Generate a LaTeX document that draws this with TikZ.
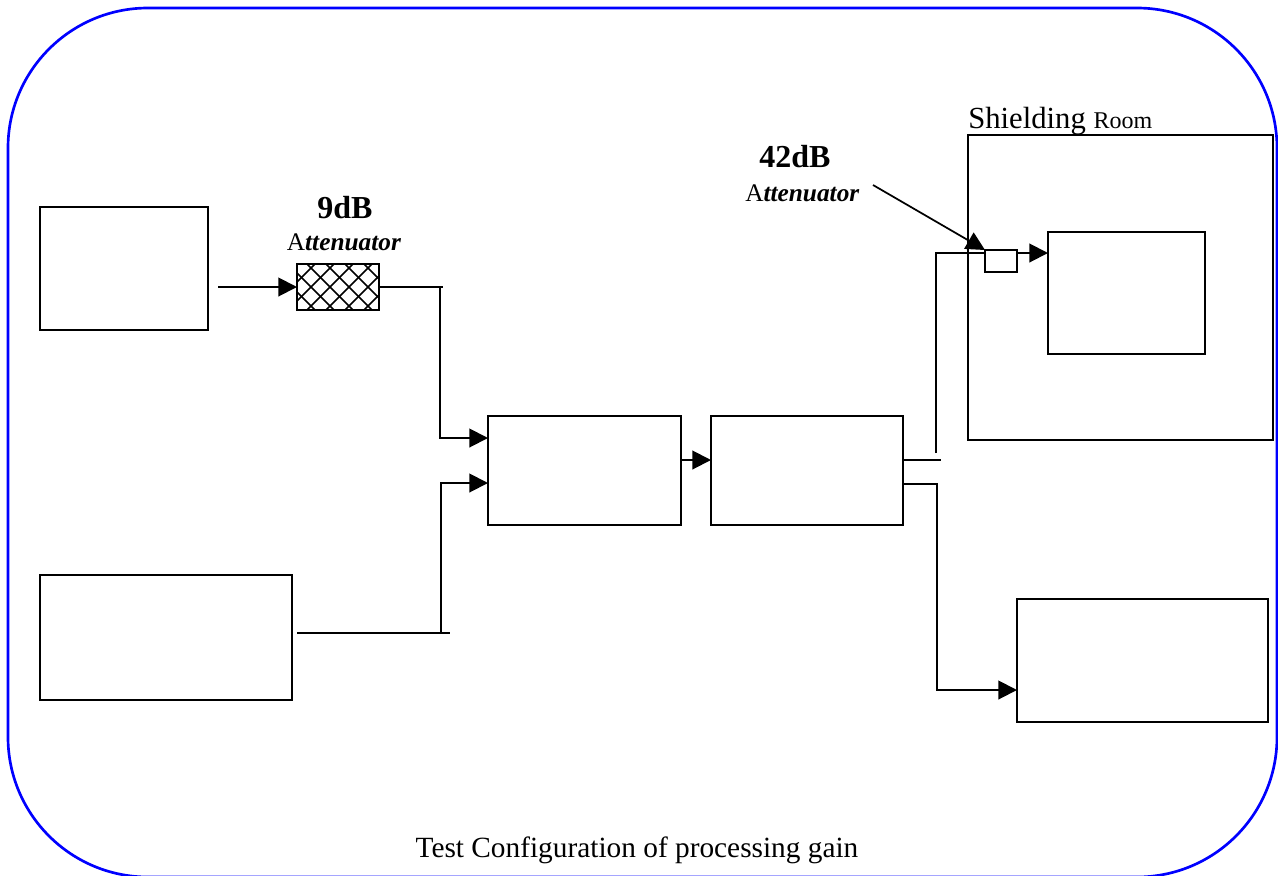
\documentclass[tikz,border=0pt]{standalone}
\usepackage{fontspec}
\setmainfont{Liberation Serif}
\usetikzlibrary{arrows.meta,fit}
\begin{document}
\begin{tikzpicture}[x=0.75pt,y=-0.75pt,
  box/.style={draw, line width=1.5pt, inner sep=0pt, outer sep=0pt},
  wire/.style={line width=1.5pt},
  arr/.style={line width=1.5pt, -{Triangle[length=14pt,width=14pt]}},
  lbl/.style={inner sep=0pt, anchor=base},
  frame/.style={draw=blue, line width=2pt, rounded corners=105pt}]
\useasboundingbox (0,0) rectangle (1278,875);
% frame
\begin{scope}
\clip (0,0) rectangle (1278,875);
\path[frame] (8,8) rectangle (1277,877);
\end{scope}
% boxes
\node[box, fit={(40,207) (208,330)}] (srcA) {};
\node[box, fit={(40,575) (292,700)}] (srcB) {};
\node[box, fit={(297,264) (379,310)}] (att9) {};
\node[box, fit={(488,416) (681,525)}] (mix) {};
\node[box, fit={(711,416) (903,525)}] (dev) {};
\node[box, fit={(968,135) (1273,440)}] (room) {};
\node[box, fit={(1048,232) (1205,354)}] (rx) {};
\node[box, line width=1.2pt, fit={(985,250) (1017,272)}] (att42) {};
\node[box, fit={(1017,599) (1268,722)}] (meas) {};
% hatch of 9dB attenuator
\begin{scope}
  \clip (att9.north west) rectangle (att9.south east);
  \foreach \i in {231,250,...,400} {
    \draw[line width=1.1pt] (\i,264) -- ++(46,46);
    \draw[line width=1.1pt] (\i,310) -- ++(46,-46);
  }
\end{scope}
\node[box, fit={(297,264) (379,310)}] {};
% connectors
\coordinate (inA) at (218,287);
\draw[arr] (inA) -- (att9.west |- inA);
\draw[wire] (att9.east |- inA) -- (443,287);
\draw[arr] (440,286) -- (440,438) -- (mix.west |- 0,438);
\draw[wire] (297,633) -- (450,633);
\draw[arr] (441,633) -- (441,483) -- (mix.west |- 0,483);
\draw[arr] (mix.east |- 0,460) -- (dev.west |- 0,460);
\draw[wire] (dev.east |- 0,460) -- (941,460);
\draw[wire] (936,453) -- (936,253) -- (att42.west |- 0,253);
\draw[arr] (att42.east |- 0,253) -- (rx.west |- 0,253);
\draw[arr] (dev.east |- 0,484) -| (937,690) -- (meas.west |- 0,690);
\coordinate (ptr) at (873,185);
\draw[arr, line width=1.3pt] (ptr) -- (att42.north west);
% labels
\node[lbl, font=\fontsize{24}{24}\selectfont\bfseries] (l9) at (345,218) {9dB};
\node[lbl, font=\fontsize{19}{19}\selectfont] (a9) at (344,250) {A\textbf{\textit{ttenuator}}};
\node[lbl, font=\fontsize{24}{24}\selectfont\bfseries] (l42) at (795,167) {42dB};
\node[lbl, anchor=base west, font=\fontsize{19}{19}\selectfont] (a42) at (745,201) {A\textbf{\textit{ttenuator}}};
\node[lbl, anchor=base west, font=\fontsize{23}{23}\selectfont] (sr) at (968,128) {Shielding {\fontsize{18}{18}\selectfont Room}};
\node[lbl, font=\fontsize{22}{22}\selectfont] (cap) at (637,857) {Test Configuration of processing gain};
\end{tikzpicture}
\end{document}
